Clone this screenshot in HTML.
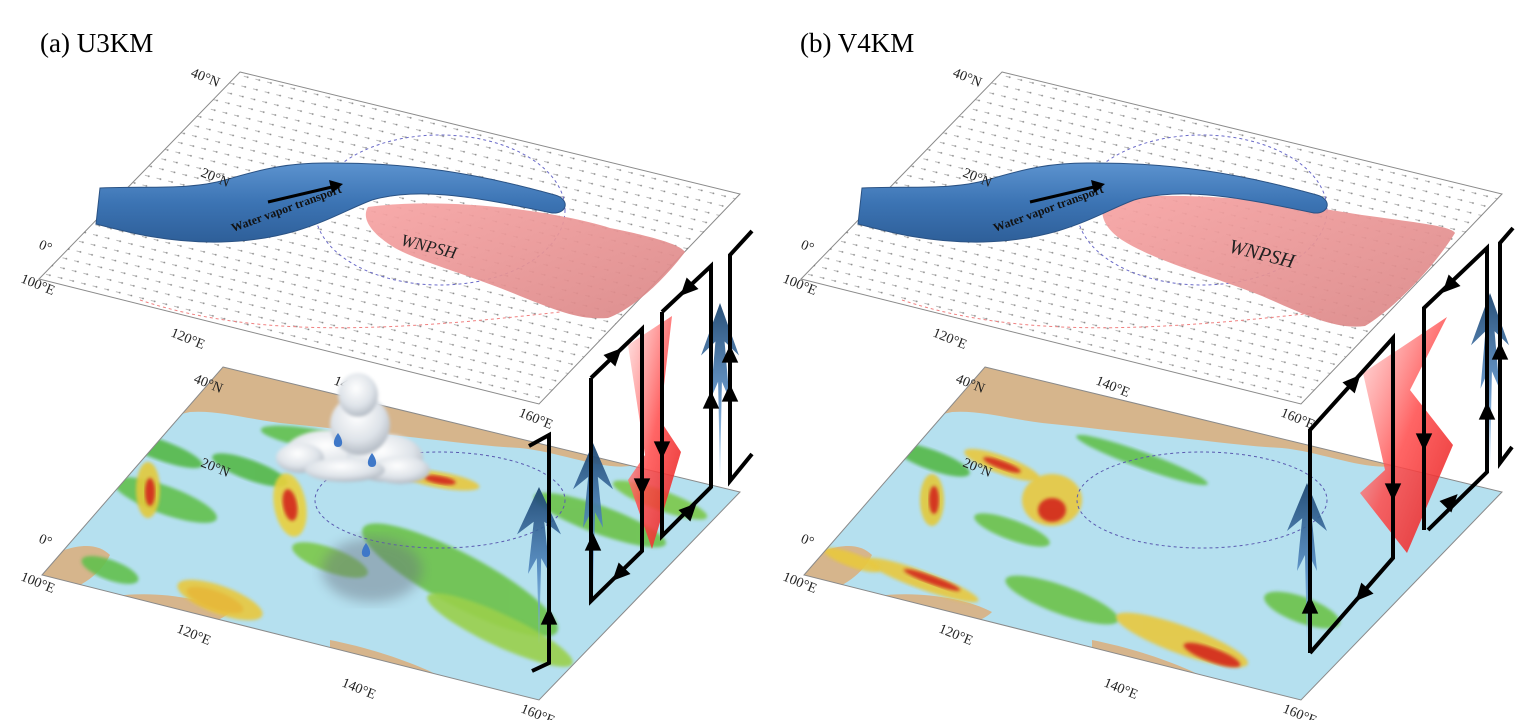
<!DOCTYPE html>
<html><head><meta charset="utf-8"><style>
html,body{margin:0;padding:0;background:#fff;}
svg{display:block;font-family:"Liberation Serif",serif;}
</style></head><body>
<svg id="fig" width="1521" height="720" viewBox="0 0 1521 720" xmlns="http://www.w3.org/2000/svg">
<defs>
 <pattern id="dots" width="12" height="10" patternUnits="userSpaceOnUse" patternTransform="rotate(14)">
  <line x1="3" y1="5" x2="7" y2="5" stroke="#888" stroke-width="0.8"/>
  <circle cx="7" cy="5" r="0.9" fill="#555"/>
 </pattern>
 <linearGradient id="band" x1="0" y1="0" x2="0" y2="1">
  <stop offset="0" stop-color="#5c93cf"/><stop offset="0.5" stop-color="#3c74b4"/><stop offset="1" stop-color="#2e5f99"/>
 </linearGradient>
 <linearGradient id="pink" x1="0" y1="0" x2="1" y2="1">
  <stop offset="0" stop-color="#f7a3a3"/><stop offset="1" stop-color="#d98585"/>
 </linearGradient>
 <linearGradient id="blueArr" x1="0" y1="0" x2="0" y2="1">
  <stop offset="0" stop-color="#1d4670" stop-opacity="0.95"/><stop offset="0.55" stop-color="#4f86c0" stop-opacity="0.85"/><stop offset="1" stop-color="#8dbfe9" stop-opacity="0.6"/>
 </linearGradient>
 <linearGradient id="redArr" x1="0" y1="0" x2="1" y2="1">
  <stop offset="0" stop-color="#ffd0d0" stop-opacity="0.6"/><stop offset="0.5" stop-color="#ff4a4a" stop-opacity="0.85"/><stop offset="1" stop-color="#e21a1a" stop-opacity="0.9"/>
 </linearGradient>
 <radialGradient id="cloudG" cx="0.45" cy="0.35" r="0.7">
  <stop offset="0" stop-color="#ffffff"/><stop offset="0.6" stop-color="#dde2e8"/><stop offset="1" stop-color="#a9b1bb"/>
 </radialGradient>
 <filter id="blur2"><feGaussianBlur stdDeviation="1.5"/></filter>
 <filter id="blur6"><feGaussianBlur stdDeviation="6"/></filter>
 <clipPath id="lowA"><polygon points="223,367 740,492 539,700 42,575"/></clipPath>
</defs>

<text x="40" y="52" font-size="27">(a) U3KM</text>
<text x="800" y="52" font-size="27">(b) V4KM</text>

<g id="panelA"></g>
<g id="panelB" transform="translate(762,0)"></g>
</svg>
<script>
const NS='http://www.w3.org/2000/svg';
function mk(parent,tag,attrs,name){const e=document.createElementNS(NS,tag);for(const k in attrs)e.setAttribute(k,attrs[k]);


parent.appendChild(e);return e;}

const upperPlane=[[240,72],[740,194],[539,404],[39,279]];
const lowerPlane=[[223,367],[740,492],[539,700],[42,575]];
const upperLabels=[["40°N",190,76],["20°N",200,176],["0°",38,248],["100°E",20,282],["120°E",170,336],["140°E",333,384],["160°E",518,416]];
const lowerLabels=[["40°N",193,382],["20°N",200,466],["0°",38,542],["100°E",20,580],["120°E",176,632],["140°E",341,686],["160°E",520,712]];
const bandPath="M100,188 C150,186 190,190 225,180 C265,168 290,163 325,163 C410,162 480,174 555,195 C570,199 568,214 552,213 C480,198 420,186 372,200 C335,214 300,240 221,242 C170,243 130,233 96,224 Z";
const pinkA="M368,207 C450,196 560,212 610,228 C650,236 680,244 685,252 C660,285 630,310 608,318 C580,320 560,312 520,296 C470,275 420,262 395,248 C375,236 360,220 368,207 Z";
const pinkB="M345,200 C430,188 540,205 600,215 C650,222 690,226 693,233 C670,270 630,310 603,326 C575,330 545,316 500,296 C450,276 395,262 360,240 C342,228 335,212 345,200 Z";

function plane(g,pts,fill,name){return mk(g,'polygon',{points:pts.map(p=>p.join(',')).join(' '),fill:fill,stroke:'#8a8a8a','stroke-width':1},name);}
function labels(g,arr,prefix){arr.forEach(l=>{const t=mk(g,'text',{x:l[1],y:l[2],'font-size':14,fill:'#222',transform:`rotate(22 ${l[1]} ${l[2]})`},prefix+'-'+l[0].replace('°','-').toLowerCase());t.textContent=l[0];});}

function arrowHead(g,x,y,ang,name){const s=11;const a=ang*Math.PI/180;
 const p=[[0,-s],[ -s*0.75,s*0.6],[s*0.75,s*0.6]].map(([px,py])=>[x+px*Math.cos(a)-py*Math.sin(a),y+px*Math.sin(a)+py*Math.cos(a)]);
 mk(g,'polygon',{points:p.map(q=>q.join(',')).join(' '),fill:'#000'},name);}
function loop(g,pts,name){mk(g,'polyline',{points:pts.map(p=>p.join(',')).join(' '),fill:'none',stroke:'#000','stroke-width':4,'stroke-linejoin':'miter'},name);}
function bigArrow(g,x,y1,y2,w,fill,up,name){const h=y2-y1;let pts;
 if(up){pts=[[x,y1],[x+w*0.5,y1+h*0.3],[x+w*0.12,y1+h*0.22],[x+w*0.25,y1+h*0.55],[x+w*0.05,y1+h*0.45],[x,y2],[x-w*0.05,y1+h*0.45],[x-w*0.25,y1+h*0.55],[x-w*0.12,y1+h*0.22],[x-w*0.5,y1+h*0.3]];}
 else{pts=[[x,y2],[x+w*0.5,y2-h*0.3],[x+w*0.12,y2-h*0.22],[x+w*0.25,y2-h*0.55],[x+w*0.05,y2-h*0.45],[x,y1],[x-w*0.05,y2-h*0.45],[x-w*0.25,y2-h*0.55],[x-w*0.12,y2-h*0.22],[x-w*0.5,y2-h*0.3]];}
 mk(g,'polygon',{points:pts.map(q=>q.join(',')).join(' '),fill:fill},name);}
function rainMap(g,patches,land){const c=mk(g,'g',{'clip-path':'url(#lowA)'},'precip-map');
 mk(c,'rect',{x:0,y:300,width:800,height:420,fill:'#b5e0ef'},'ocean');
 land.forEach((d,i)=>mk(c,'path',{d:d,fill:'#d6b58c'},'land-'+i));
 patches.forEach((p,i)=>{mk(c,'ellipse',{cx:p[0],cy:p[1],rx:p[2],ry:p[3],fill:p[4],opacity:0.9,filter:'url(#blur2)',transform:`rotate(${p[5]===undefined?20:p[5]} ${p[0]} ${p[1]})`},'rain-patch-'+i);});
}
const landA=["M200,360 L760,360 L740,488 C700,478 660,470 630,466 C600,470 560,452 520,448 C480,446 440,440 400,436 C360,432 330,428 290,424 C250,420 220,410 190,412 C150,420 120,440 90,470 L60,480 L60,360 Z",
 "M40,560 C70,545 95,540 110,555 C100,575 80,590 40,600 Z","M95,600 C140,588 200,596 230,612 C210,632 150,632 95,618 Z","M330,640 C380,650 440,670 480,700 L330,710 Z"];
const patchesA=[[160,450,45,10,'#55b847'],[165,500,55,14,'#62c04e'],[148,490,12,28,'#e2c93a',0],[150,492,5,14,'#d3261c',0],[250,470,40,10,'#55b847'],[290,505,16,32,'#e8d03c',-10],[290,505,7,16,'#d3261c',-10],[440,480,40,8,'#e8c83c',10],[440,480,16,4,'#d3261c',10],[320,440,60,10,'#62c04e',10],[460,580,110,26,'#6cc24a',28],[500,630,80,16,'#9ad04c',25],[215,600,30,9,'#d3261c'],[220,600,45,14,'#e8c83c'],[360,672,36,9,'#d3261c'],[600,520,70,14,'#6cc24a',20],[660,500,50,10,'#7cc84a'],[110,570,30,10,'#62c04e'],[330,560,40,12,'#7cc84a',20]];
const landB=landA;
const patchesB=[[170,460,40,10,'#55b847'],[170,500,12,26,'#e2c93a',0],[172,500,5,14,'#d3261c',0],[240,465,40,9,'#e8c83c'],[240,465,20,4,'#d3261c'],[290,500,30,26,'#e8c83c',0],[290,510,14,12,'#d3261c',0],[380,460,70,8,'#62c04e'],[160,580,60,9,'#e8c83c'],[170,580,30,4,'#d3261c'],[300,600,60,14,'#6cc24a'],[420,640,70,14,'#e8c83c'],[450,655,30,7,'#d3261c'],[540,610,40,13,'#6cc24a'],[90,560,30,7,'#e8c83c'],[250,530,40,10,'#6cc24a']];

function buildPanel(g,pink,land,patches,pinkText){
 plane(g,upperPlane,'#fff','upper-plane');
 mk(g,'polygon',{points:upperPlane.map(p=>p.join(',')).join(' '),fill:'url(#dots)',opacity:0.7},'wind-vectors');
 mk(g,'ellipse',{cx:440,cy:210,rx:125,ry:75,fill:'none',stroke:'#6a6ac8','stroke-dasharray':'3,3','stroke-width':1},'upper-blue-dashed-circle');
 mk(g,'path',{d:'M140,300 C260,340 400,330 560,312',fill:'none',stroke:'#f08080','stroke-dasharray':'3,3','stroke-width':1},'upper-red-dashed');
 mk(g,'path',{d:pink,fill:'url(#pink)',opacity:0.92},'wnpsh-region');
 mk(g,'path',{d:bandPath,fill:'url(#band)',stroke:'#2a5284','stroke-width':1},'water-vapor-band');
 const w=mk(g,'text',{x:233,y:232,'font-size':12,'font-weight':'bold',fill:'#111',transform:'rotate(-20 233 232)'},'water-vapor-label');w.textContent='Water vapor transport';
 mk(g,'line',{x1:268,y1:202,x2:332,y2:187,stroke:'#000','stroke-width':3},'transport-arrow-shaft');
 mk(g,'polygon',{points:'343,184 329,180 332,193',fill:'#000'},'transport-arrow-head');
 const t=mk(g,'text',{x:pinkText[0],y:pinkText[1],'font-size':pinkText[2],'font-style':'italic',fill:'#222',transform:`rotate(14 ${pinkText[0]} ${pinkText[1]})`},'wnpsh-label');t.textContent='WNPSH';
 labels(g,upperLabels,'upper-label');
 rainMap(g,patches,land);
 mk(g,'polygon',{points:lowerPlane.map(p=>p.join(',')).join(' '),fill:'none',stroke:'#8a8a8a','stroke-width':1},'lower-plane');
 mk(g,'ellipse',{cx:440,cy:500,rx:125,ry:48,fill:'none',stroke:'#5a5ab0','stroke-dasharray':'3,3','stroke-width':1,'clip-path':'url(#lowA)'},'lower-blue-dashed-circle');
 labels(g,lowerLabels,'lower-label');
}

const gA=document.getElementById('panelA');
buildPanel(gA,pinkA,landA,patchesA,[400,245,17]);
mk(gA,'ellipse',{cx:372,cy:570,rx:50,ry:32,fill:'#6a7380',opacity:0.45,filter:'url(#blur6)'},'cloud-shadow');
const cl=mk(gA,'g',{filter:'url(#blur2)'},'cloud');
[[330,452,45,22],[385,458,38,24],[360,425,30,30],[358,395,20,22],[400,470,30,14],[300,458,24,15],[345,470,40,12]].forEach((c,i)=>mk(cl,'ellipse',{cx:c[0],cy:c[1],rx:c[2],ry:c[3],fill:'url(#cloudG)'},'cloud-puff-'+i));
[[338,442],[372,462],[366,552]].forEach((d,i)=>mk(gA,'path',{d:`M${d[0]},${d[1]-9} C${d[0]+6},${d[1]-1} ${d[0]+5},${d[1]+5} ${d[0]},${d[1]+5} C${d[0]-5},${d[1]+5} ${d[0]-6},${d[1]-1} ${d[0]},${d[1]-9} Z`,fill:'#3f78c8'},'raindrop-'+i));
bigArrow(gA,539,487,645,44,'url(#blueArr)',true,'updraft-arrow-1');
bigArrow(gA,593,443,597,40,'url(#blueArr)',true,'updraft-arrow-2');
bigArrow(gA,720,303,478,38,'url(#blueArr)',true,'updraft-arrow-3');
mk(gA,'polygon',{points:'628,345 672,316 660,420 681,452 652,549 628,480 645,455',fill:'url(#redArr)'},'downdraft-arrow');
loop(gA,[[529,446],[549,435],[549,663],[532,671]],'circulation-loop-1');
loop(gA,[[591,378],[642,329],[642,551],[591,601],[591,378]],'circulation-loop-2');
loop(gA,[[662,312],[711,266],[711,487],[662,536],[662,312]],'circulation-loop-3');
loop(gA,[[752,231],[730,255],[730,481],[752,454]],'circulation-loop-4');
arrowHead(gA,549,618,0,'loop-arrow-1');
arrowHead(gA,593,544,0,'loop-arrow-2');arrowHead(gA,614,356,44,'loop-arrow-3');arrowHead(gA,642,485,180,'loop-arrow-4');arrowHead(gA,620,573,224,'loop-arrow-5');
arrowHead(gA,688,288,224,'loop-arrow-6');arrowHead(gA,662,448,180,'loop-arrow-7');arrowHead(gA,689,511,44,'loop-arrow-8');arrowHead(gA,711,402,0,'loop-arrow-9');
arrowHead(gA,730,356,0,'loop-arrow-10');arrowHead(gA,730,395,0,'loop-arrow-11');

const gB=document.getElementById('panelB');
buildPanel(gB,pinkB,landB,patchesB,[466,252,20]);
bigArrow(gB,545,483,643,40,'url(#blueArr)',true,'updraft-arrow-1');
bigArrow(gB,728,293,467,38,'url(#blueArr)',true,'updraft-arrow-2');
mk(gB,'polygon',{points:'601,373 685,317 648,390 691,445 645,553 598,493 623,470',fill:'url(#redArr)'},'downdraft-arrow');
loop(gB,[[548,653],[548,430],[631,338],[631,558],[548,653]],'circulation-loop-1');
loop(gB,[[662,530],[662,308],[725,248],[725,472],[666,530]],'circulation-loop-2');
loop(gB,[[751,228],[738,243],[738,463],[750,447]],'circulation-loop-3');
arrowHead(gB,548,607,0,'loop-arrow-1');arrowHead(gB,591,383,42,'loop-arrow-2');arrowHead(gB,631,490,180,'loop-arrow-3');arrowHead(gB,601,593,222,'loop-arrow-4');
arrowHead(gB,688,285,224,'loop-arrow-5');arrowHead(gB,662,440,180,'loop-arrow-6');arrowHead(gB,688,502,44,'loop-arrow-7');arrowHead(gB,725,413,0,'loop-arrow-8');
arrowHead(gB,738,353,0,'loop-arrow-9');
</script>
</body></html>
